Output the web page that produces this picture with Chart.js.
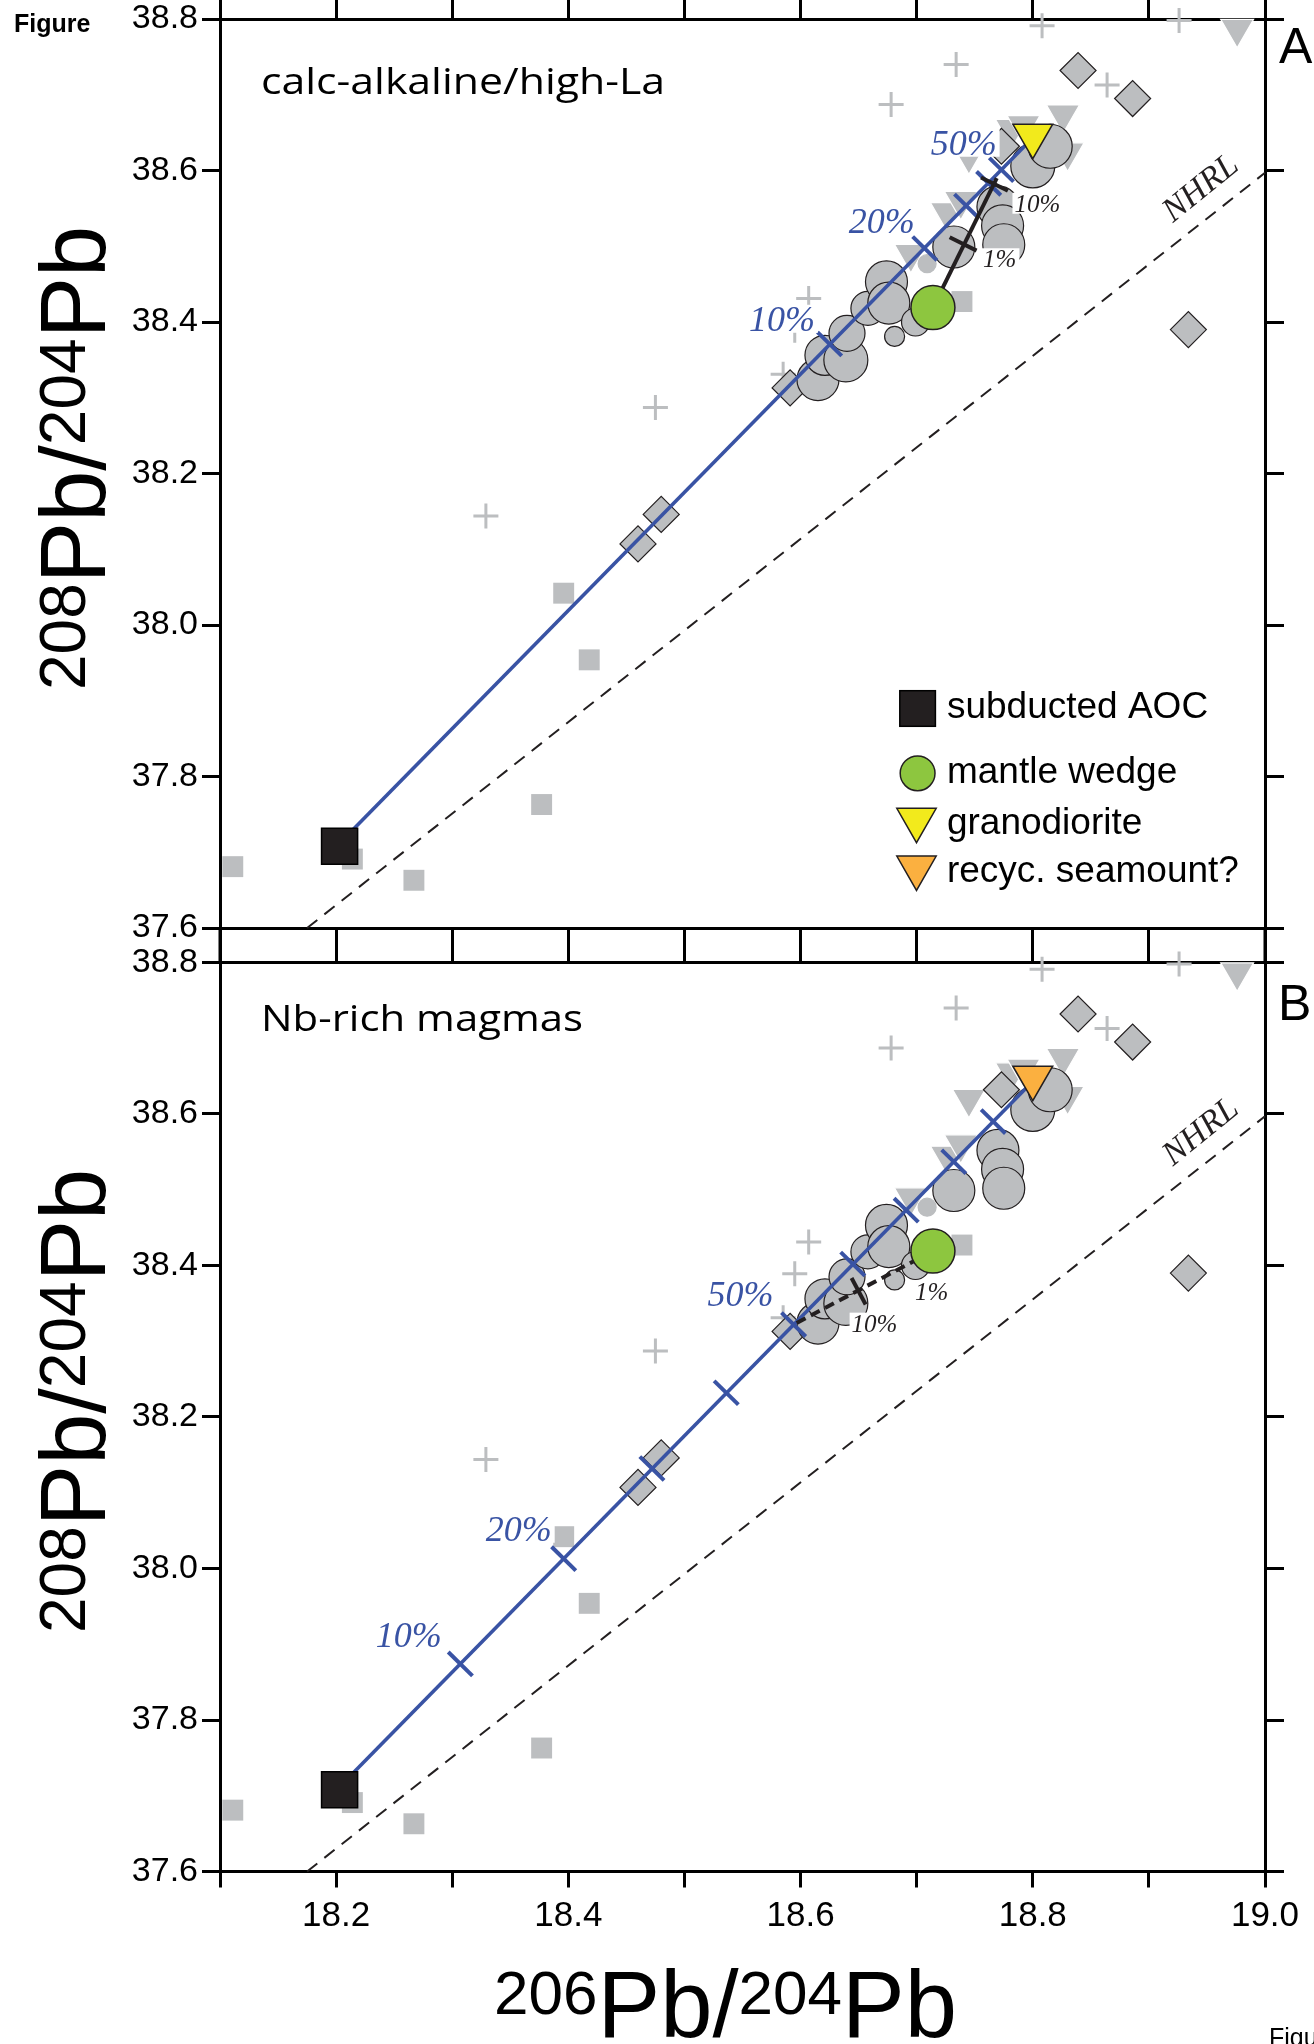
<!DOCTYPE html>
<html>
<head>
<meta charset="utf-8">
<script src="https://cdn.jsdelivr.net/npm/chart.js@4.4.1/dist/chart.umd.min.js"></script>
<style>
html,body{margin:0;padding:0;background:#fff;}
#wrap{position:relative;width:1314px;height:2044px;overflow:hidden;background:#fff;}
canvas{position:absolute;left:0;}
#cA{top:0;width:1314px;height:945px;}
#cB{top:945px;width:1314px;height:1099px;}
</style>
</head>
<body>
<div id="wrap">
<canvas id="cA" width="1314" height="945"></canvas>
<canvas id="cB" width="1314" height="1099"></canvas>
</div>
<script>
// ===================== DATA =====================
const xTickValues = [18.1, 18.2, 18.3, 18.4, 18.5, 18.6, 18.7, 18.8, 18.9, 19.0];
const xTickLabels = ['', '18.2', '', '18.4', '', '18.6', '', '18.8', '', '19.0'];
const yTickValues = [37.6, 37.8, 38.0, 38.2, 38.4, 38.6, 38.8];
const yTickLabels = ['37.6', '37.8', '38.0', '38.2', '38.4', '38.6', '38.8'];

// Northern Hemisphere Reference Line (end points as drawn)
const nhrlX = [18.175, 19.0];
const nhrlY = [37.600, 38.597];

// background samples (same in both panels)
const graySquareX = [18.111, 18.214, 18.267, 18.377, 18.396, 18.418, 18.739];
const graySquareY = [37.681, 37.691, 37.663, 37.763, 38.042, 37.954, 38.427];

const plusX = [18.329, 18.475, 18.585, 18.595, 18.607, 18.678, 18.734, 18.808, 18.864, 18.926];
const plusY = [38.144, 38.287, 38.331, 38.389, 38.431, 38.687, 38.740, 38.791, 38.713, 38.798];

const diamondX = [18.460, 18.480, 18.591, 18.773, 18.839, 18.886, 18.934];
const diamondY = [38.107, 38.146, 38.313, 38.632, 38.732, 38.695, 38.390];

const triangleX = [18.695, 18.726, 18.738, 18.745, 18.782, 18.792, 18.826, 18.830, 18.976];
const triangleY = [38.490, 38.545, 38.560, 38.620, 38.655, 38.660, 38.674, 38.624, 38.787];

const circleX = [18.615, 18.621, 18.639, 18.640, 18.658, 18.674, 18.676, 18.681, 18.699, 18.709, 18.732, 18.770, 18.774, 18.775, 18.800, 18.815];
const circleY = [38.324, 38.356, 38.350, 38.385, 38.418, 38.453, 38.425, 38.381, 38.400, 38.477, 38.499, 38.552, 38.527, 38.502, 38.606, 38.632];

// end members
const endMemberNames = ['subducted AOC', 'mantle wedge', 'granodiorite', 'recyc. seamount?'];
const endMemberX = [18.203, 18.714, 18.800, 18.800];
const endMemberY = [37.708, 38.419, 38.646, 38.648];

// AOC mixing line (blue), drawn from the AOC square to the upper end member
const mixCurveX = [18.203, 18.803];
const mixCurveY = [37.712, 38.648];

// panel A: AOC - granodiorite mixing ticks
const tickAX = [18.625, 18.707, 18.743, 18.762, 18.773];
const tickAY = [38.371, 38.497, 38.553, 38.583, 38.601];
const tickALabels = ['10%', '20%', '', '', '50%'];
// panel B: AOC - seamount mixing ticks
const tickBX = [18.307, 18.396, 18.472, 18.536, 18.594, 18.645, 18.691, 18.732, 18.766];
const tickBY = [37.874, 38.013, 38.132, 38.232, 38.322, 38.402, 38.473, 38.537, 38.590];
const tickBLabels = ['10%', '20%', '', '', '50%', '', '', '', ''];

// mantle wedge mixing (black)
const wedgeLineAX = [18.714, 18.769];
const wedgeLineAY = [38.419, 38.590];
const wedgeTickAX = [18.740, 18.767];
const wedgeTickAY = [38.503, 38.582];
const wedgeTickALabels = ['1%', '10%'];

const wedgeLineBX = [18.714, 18.594];
const wedgeLineBY = [38.419, 38.322];
const wedgeTickBX = [18.706, 18.650];
const wedgeTickBY = [38.412, 38.366];
const wedgeTickBLabels = ['1%', '10%'];

const panelTitles = { A: 'calc-alkaline/high-La', B: 'Nb-rich magmas' };
const xTitleParts = [['206', true], ['Pb/', false], ['204', true], ['Pb', false]];
const yTitleParts = [['208', true], ['Pb/', false], ['204', true], ['Pb', false]];

// ===================== STYLE =====================
const GRAY = '#bcbec0', INK = '#231f20', BLUE = '#3953a4';
const GREEN = '#8dc63f', YELLOW = '#f2ea1c', ORANGE = '#fbb040';
const SANS = '"Liberation Sans", Arial, Helvetica, sans-serif';
const SERIF = '"Liberation Serif", "Times New Roman", serif';
const TITLEFONT = '"Open Sans", "Noto Sans", sans-serif';
const circleRadiusPx = [21, 20, 22, 18, 17, 21, 21, 10, 14, 9, 21, 21, 21, 21, 22, 22];
const circleBorder = circleX.map((_, i) => i === 9 ? GRAY : INK);

// label placement (pixel offsets from the tick they annotate)
const blueLabelOffA = [[-14.6, -13.2], [-10, -16], null, null, [-4.8, -15]];
const blueLabelOffB = [[-18.6, -16.5], [-12, -17.9], null, null, [-20.2, -18.6], null, null, null, null];
const blackLabelOffA = [[20, 23.3], [20, 27.6]];
const blackLabelOffB = [[-8.7, 43.6], [-7, 40.4]];
const nhrlLabelAnchor = [18.945, 38.576];

const pts = (xs, ys) => xs.map((x, i) => ({ x, y: ys[i] }));

// ===================== helpers =====================
function fitText(ctx, text, x, y, width) {
  const w = ctx.measureText(text).width;
  ctx.save();
  ctx.translate(x, y);
  ctx.scale(width / w, 1);
  ctx.textAlign = 'left';
  ctx.fillText(text, 0, 0);
  ctx.restore();
}

function bgLabel(ctx, text, x, y, align, font, color) {
  if (!text) return;
  ctx.save();
  ctx.font = font;
  ctx.textBaseline = 'alphabetic';
  const m = ctx.measureText(text);
  const w = m.width;
  const left = align === 'right' ? x - w : x;
  const asc = m.actualBoundingBoxAscent, desc = m.actualBoundingBoxDescent;
  ctx.fillStyle = '#fff';
  ctx.fillRect(left - 2, y - asc - 2, w + 5, asc + desc + 4);
  ctx.fillStyle = color;
  ctx.textAlign = 'left';
  ctx.fillText(text, left, y);
  ctx.restore();
}

// rich axis title: superscript numbers top-aligned with the cap height
function richTitle(ctx, parts, x, y, rot, main, sup) {
  ctx.save();
  ctx.translate(x, y);
  if (rot) ctx.rotate(rot);
  ctx.fillStyle = '#000';
  ctx.textBaseline = 'alphabetic';
  ctx.textAlign = 'left';
  let cx = 0;
  const capMain = 0.716 * main, capSup = 0.716 * sup;
  parts.forEach(([t, isSup]) => {
    ctx.font = (isSup ? sup : main) + 'px ' + SANS;
    ctx.fillText(t, cx, isSup ? -(capMain - capSup) : 0);
    cx += ctx.measureText(t).width;
  });
  ctx.restore();
}

function downTri(ctx, cx, top, w, h, fill) {
  ctx.beginPath();
  ctx.moveTo(cx - w / 2, top);
  ctx.lineTo(cx + w / 2, top);
  ctx.lineTo(cx, top + h);
  ctx.closePath();
  ctx.fillStyle = fill; ctx.fill();
  ctx.lineWidth = 1.5; ctx.strokeStyle = INK; ctx.stroke();
}

// ===================== decorations plugin =====================
const decor = {
  id: 'decor',
  afterDatasetsDraw(chart, args, opts) {
    const ctx = chart.ctx, xs = chart.scales.x, ys = chart.scales.y;
    const P = opts.panel;
    const blueT = P === 'A' ? [tickAX, tickAY, tickALabels, blueLabelOffA] : [tickBX, tickBY, tickBLabels, blueLabelOffB];
    blueT[2].forEach((lab, i) => {
      if (!lab) return;
      const px = xs.getPixelForValue(blueT[0][i]), py = ys.getPixelForValue(blueT[1][i]);
      bgLabel(ctx, lab, px + blueT[3][i][0], py + blueT[3][i][1], 'right', 'italic 36px ' + SERIF, BLUE);
    });
    const blk = P === 'A' ? [wedgeTickAX, wedgeTickAY, wedgeTickALabels, blackLabelOffA] : [wedgeTickBX, wedgeTickBY, wedgeTickBLabels, blackLabelOffB];
    blk[2].forEach((lab, i) => {
      const px = xs.getPixelForValue(blk[0][i]), py = ys.getPixelForValue(blk[1][i]);
      bgLabel(ctx, lab, px + blk[3][i][0], py + blk[3][i][1], 'left', 'italic 25px ' + SERIF, INK);
    });
    // NHRL label
    ctx.save();
    ctx.translate(xs.getPixelForValue(nhrlLabelAnchor[0]), ys.getPixelForValue(nhrlLabelAnchor[1]));
    ctx.rotate(-39 * Math.PI / 180);
    ctx.font = 'italic 34px ' + SERIF;
    ctx.fillStyle = INK; ctx.textAlign = 'center'; ctx.textBaseline = 'middle';
    ctx.fillText('NHRL', 0, 0);
    ctx.restore();
  },
  afterDraw(chart, args, opts) {
    const ctx = chart.ctx, ca = chart.chartArea;
    const P = opts.panel;
    ctx.save();
    // frame continuation through the gap between the panels
    ctx.strokeStyle = '#000'; ctx.lineWidth = 3;
    ctx.beginPath();
    if (P === 'A') {
      ctx.moveTo(ca.left, ca.bottom); ctx.lineTo(ca.left, chart.height);
      ctx.moveTo(ca.right, ca.bottom); ctx.lineTo(ca.right, chart.height);
    } else {
      ctx.moveTo(ca.left, 0); ctx.lineTo(ca.left, ca.top);
      ctx.moveTo(ca.right, 0); ctx.lineTo(ca.right, ca.top);
    }
    ctx.stroke();

    ctx.fillStyle = '#000';
    ctx.textBaseline = 'alphabetic';
    // panel title
    ctx.font = '36px ' + TITLEFONT;
    if (P === 'A') fitText(ctx, panelTitles.A, 261, 94, 404);
    else fitText(ctx, panelTitles.B, 261, 1030.7 - 945, 322);
    // panel letter
    ctx.font = '50px ' + SANS;
    ctx.textAlign = 'left';
    if (P === 'A') ctx.fillText('A', 1279, 63);
    else ctx.fillText('B', 1278, 1020 - 945);
    // y axis title (rotated)
    const yOrigin = P === 'A' ? 690 : 690 + 943 - 945;
    richTitle(ctx, yTitleParts, 105, yOrigin, -Math.PI / 2, 92, 64);

    if (P === 'A') {
      ctx.font = 'bold 25px ' + SANS;
      ctx.fillStyle = '#000';
      ctx.fillText('Figure', 14, 32);
      // legend
      ctx.fillStyle = INK; ctx.fillRect(899.8, 690.7, 35.6, 35.6);
      ctx.lineWidth = 1.5; ctx.strokeStyle = '#000'; ctx.strokeRect(899.8, 690.7, 35.6, 35.6);
      ctx.beginPath(); ctx.arc(917.6, 773.3, 17.4, 0, Math.PI * 2);
      ctx.fillStyle = GREEN; ctx.fill(); ctx.strokeStyle = INK; ctx.stroke();
      downTri(ctx, 916.5, 808.3, 39.4, 34.4, YELLOW);
      downTri(ctx, 916.5, 856, 39.4, 34.4, ORANGE);
      ctx.fillStyle = '#000';
      ctx.font = '37px ' + SANS;
      const base = [718.3, 783.3, 834.3, 881.7];
      endMemberNames.forEach((n, i) => ctx.fillText(n, 946.9, base[i]));
    } else {
      // x axis title
      richTitle(ctx, xTitleParts, 494, 2037 - 945, 0, 94, 62);
      ctx.font = '25px ' + SANS;
      ctx.fillStyle = '#000';
      ctx.fillText('Figure', 1269, 2046 - 945);
    }
    ctx.restore();
  }
};

// ===================== chart builders =====================
function makeScales(p) {
  const grid = (len) => ({ display: true, drawOnChartArea: false, drawTicks: true, tickLength: len, tickWidth: 3, tickColor: '#000', color: '#000', lineWidth: 3 });
  const border = { display: true, width: 3, color: '#000' };
  const setX = s => { s.ticks = xTickValues.map(v => ({ value: v })); };
  const setY = s => { s.ticks = yTickValues.map(v => ({ value: v })); };
  const zero = s => { s.paddingLeft = 0; s.paddingRight = 0; s.paddingTop = 0; s.paddingBottom = 0; };
  return {
    x: {
      type: 'linear', position: 'bottom', min: 18.1, max: 19.0,
      grid: grid(p.bottomTick), border, afterBuildTicks: setX,
      ticks: { display: p.xLabels, autoSkip: false, maxRotation: 0, minRotation: 0, padding: p.xPad, color: '#000',
               font: { family: SANS, size: 35, lineHeight: 1.2 }, callback: (v, i) => xTickLabels[i] },
      afterFit: s => { s.height = p.bottomH; zero(s); }
    },
    xTop: {
      type: 'linear', position: 'top', min: 18.1, max: 19.0,
      grid: grid(p.topTick), border, afterBuildTicks: setX,
      ticks: { display: false },
      afterFit: s => { s.height = p.topH; zero(s); }
    },
    y: {
      type: 'linear', position: 'left', min: 37.6, max: 38.8,
      grid: grid(18), border, afterBuildTicks: setY,
      ticks: { display: true, padding: 4, color: '#000', font: { family: SANS, size: 34, lineHeight: 0.4 }, callback: (v, i) => yTickLabels[i] },
      afterFit: s => { s.width = 220; zero(s); }
    },
    yRight: {
      type: 'linear', position: 'right', min: 37.6, max: 38.8,
      grid: grid(19), border, afterBuildTicks: setY,
      ticks: { display: false },
      afterFit: s => { s.width = 49; zero(s); }
    }
  };
}

function makeDatasets(panel) {
  const A = panel === 'A';
  const common = { clip: false, showLine: false };
  return [
    { ...common, label: 'NHRL', data: pts(nhrlX, nhrlY), showLine: true, borderColor: INK, borderWidth: 2, borderDash: [13, 9], pointRadius: 0, order: 100 },
    { ...common, label: 'squares', data: pts(graySquareX, graySquareY), pointStyle: 'rect', pointRadius: 14.8, backgroundColor: GRAY, borderWidth: 0, order: 90 },
    { ...common, label: 'plus', data: pts(plusX, plusY), pointStyle: 'cross', pointRadius: 12.5, borderColor: GRAY, backgroundColor: GRAY, borderWidth: 3, order: 85 },
    { ...common, label: 'triangles', data: pts(triangleX, triangleY), pointStyle: 'triangle', pointRotation: 180, pointRadius: 19, backgroundColor: GRAY, borderColor: '#ffffff', borderWidth: 1.2, order: 80 },
    { ...common, label: 'diamonds', data: pts(diamondX, diamondY), pointStyle: 'rectRot', pointRadius: 18, backgroundColor: GRAY, borderColor: INK, borderWidth: 1.2, order: 75 },
    { ...common, label: 'circles', data: pts(circleX, circleY), pointStyle: 'circle', pointRadius: circleRadiusPx, backgroundColor: GRAY, borderColor: circleBorder, borderWidth: 1.2, order: 70 },
    { ...common, label: 'AOC mixing', data: pts(mixCurveX, mixCurveY), showLine: true, borderColor: BLUE, borderWidth: 3.6, pointRadius: 0, order: 50 },
    { ...common, label: 'AOC ticks', data: A ? pts(tickAX, tickAY) : pts(tickBX, tickBY), pointStyle: 'line', pointRotation: 44.5, pointRadius: 17, borderColor: BLUE, backgroundColor: BLUE, borderWidth: 4, order: 45 },
    { ...common, label: 'wedge mixing', data: A ? pts(wedgeLineAX, wedgeLineAY) : pts(wedgeLineBX, wedgeLineBY), showLine: true, borderColor: INK, borderWidth: 4, borderDash: A ? [] : [10, 6], pointRadius: 0, order: 40 },
    { ...common, label: 'wedge ticks', data: A ? pts(wedgeTickAX, wedgeTickAY) : pts(wedgeTickBX, wedgeTickBY), pointStyle: 'line', pointRotation: A ? 26.3 : 62, pointRadius: 15, borderColor: INK, backgroundColor: INK, borderWidth: 4, order: 35 },
    { ...common, label: endMemberNames[1], data: [{ x: endMemberX[1], y: endMemberY[1] }], pointStyle: 'circle', pointRadius: 22, backgroundColor: GREEN, borderColor: INK, borderWidth: 1.5, order: 20 },
    { ...common, label: endMemberNames[0], data: [{ x: endMemberX[0], y: endMemberY[0] }], pointStyle: 'rect', pointRadius: 25.5, backgroundColor: INK, borderColor: '#000', borderWidth: 1.5, order: 15 },
    { ...common, label: A ? endMemberNames[2] : endMemberNames[3], data: A ? [{ x: endMemberX[2], y: endMemberY[2] }] : [{ x: endMemberX[3], y: endMemberY[3] }],
      pointStyle: 'triangle', pointRotation: 180, pointRadius: 23, backgroundColor: A ? YELLOW : ORANGE, borderColor: INK, borderWidth: 1.5, order: 10 }
  ];
}

function build(canvasId, panel, p) {
  return new Chart(document.getElementById(canvasId), {
    type: 'scatter',
    data: { datasets: makeDatasets(panel) },
    options: {
      responsive: false, animation: false, devicePixelRatio: 1, events: [],
      layout: { padding: 0, autoPadding: false },
      elements: { line: { tension: 0 } },
      scales: makeScales(p),
      plugins: { legend: { display: false }, tooltip: { enabled: false }, decor: { panel } }
    },
    plugins: [decor]
  });
}

build('cA', 'A', { bottomTick: 17, bottomH: 17, topTick: 19, topH: 19, xLabels: false, xPad: 6 });
build('cB', 'B', { bottomTick: 16, bottomH: 172.5, topTick: 17.5, topH: 17.5, xLabels: true, xPad: 8 });
</script>
</body>
</html>
